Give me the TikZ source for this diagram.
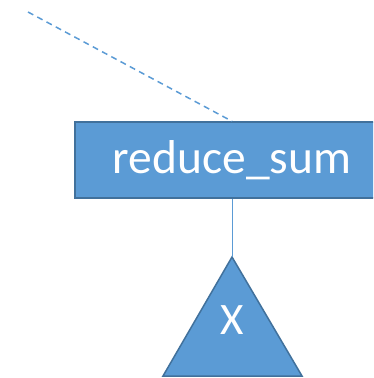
\documentclass[tikz,border=0pt]{standalone}
\usepackage{fontspec}
\setmainfont{Carlito}
\definecolor{boxfill}{HTML}{5B9BD5}
\definecolor{boxedge}{HTML}{41719C}
\begin{document}
\begin{tikzpicture}[x=1pt,y=1pt,
  opbox/.style={rectangle, fill=boxfill, draw=boxedge, line width=1.5pt,
    minimum width=314pt, minimum height=76pt, inner sep=0pt,
    text=white, font=\fontsize{47.5}{52}\selectfont},
  link/.style={draw=boxfill, line width=1pt},
  dashlink/.style={draw=boxfill, line width=1.5pt, dash pattern=on 6pt off 4.5pt}]
\useasboundingbox (0,0) rectangle (373,-378);
\clip (0,0) rectangle (373,-378);
% operation box
\node[opbox] (op) at (232,-160) {reduce\_sum};
% incoming edge from above
\coordinate (src) at (28,-12);
\draw[dashlink] (src) -- (op.north);
% input triangle
\coordinate (apex) at (232,-257);
\coordinate (bl) at (163,-376);
\coordinate (br) at (302,-376);
\draw[fill=boxfill, draw=boxedge, line width=1.5pt, line join=miter] (apex) -- (br) -- (bl) -- cycle;
\node[text=white, font=\fontsize{45}{50}\selectfont] (x) at (232,-320) {X};
\draw[link] (op.south) -- (apex);
\end{tikzpicture}
\end{document}
